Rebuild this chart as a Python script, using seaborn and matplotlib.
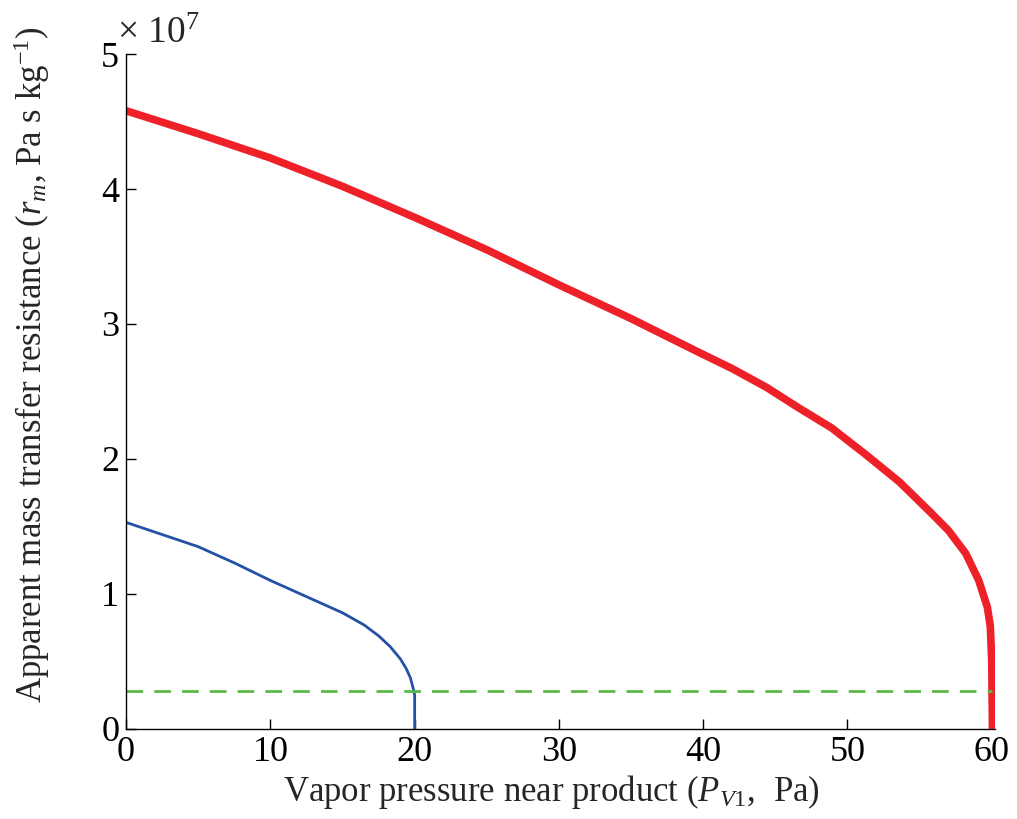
import numpy as np
import pandas as pd
from matplotlib import pyplot as plt
import seaborn as sns

# values, y in units of 1e7 Pa s/kg
red_x = [0, 5, 10, 15, 20, 25, 30, 35, 39.7, 42.0, 44.4, 46.6, 48.9, 51.3, 53.6, 55.8,
         57.0, 58.2, 59.1, 59.7, 59.9, 60.0, 60.05]
red_y = [4.58, 4.41, 4.23, 4.02, 3.79, 3.55, 3.29, 3.04, 2.79, 2.67, 2.53, 2.38, 2.23, 2.03, 1.83, 1.60,
         1.47, 1.30, 1.10, 0.90, 0.76, 0.51, 0.0]
blue_x = [0, 2.5, 5, 7.5, 10, 12.5, 15, 16.5, 17.5, 18.3, 19.0, 19.4, 19.7, 19.9, 20.0, 20.0]
blue_y = [1.53, 1.44, 1.35, 1.23, 1.10, 0.98, 0.86, 0.77, 0.69, 0.61, 0.52, 0.45, 0.38, 0.30, 0.25, 0.0]
green_x = [0, 60]
green_y = [0.28, 0.28]

sns.set_style('ticks')
plt.rcParams['font.family'] = ['Liberation Serif', 'DejaVu Serif']
plt.rcParams['mathtext.fontset'] = 'custom'
plt.rcParams['mathtext.rm'] = 'Liberation Serif'
plt.rcParams['mathtext.it'] = 'Liberation Serif:italic'

fig = plt.figure(figsize=(10.17, 8.19), dpi=100)
ax = fig.add_axes([0.124, 0.110, 0.854, 0.824])

sns.lineplot(x=red_x, y=red_y, ax=ax, color='#ED2127', lw=5.5, sort=False, estimator=None)
sns.lineplot(x=blue_x, y=blue_y, ax=ax, color='#2451A6', lw=2, sort=False, estimator=None)
sns.lineplot(x=green_x, y=green_y, ax=ax, color='#5CB948', lw=2, sort=False, estimator=None,
             dashes=False, linestyle=(0, (6, 4)))

ax.set_xlim(0, 60.2)
ax.set_ylim(0, 5)
ax.set_xticks([0, 10, 20, 30, 40, 50, 60])
ax.set_yticks([0, 1, 2, 3, 4, 5])
sns.despine(ax=ax)
for s in ['left', 'bottom']:
    ax.spines[s].set_linewidth(1.0)
    ax.spines[s].set_color('black')
ax.tick_params(direction='in', length=7, width=1, labelsize=26, colors='black', pad=5)
ax.set_xlabel('Vapor pressure near product ($P_{V\\mathrm{1}}$,  Pa)', fontsize=25)
ax.set_ylabel('Apparent mass transfer resistance ($r_m$, Pa s kg$^{\\mathrm{-1}}$)', fontsize=25)
ax.xaxis.set_label_coords(0.49, -0.065)
ax.yaxis.set_label_coords(-0.085, 0.54)
ax.text(-0.01, 1.005, '$\\times$ 10$^{7}$', transform=ax.transAxes, fontsize=27, va='bottom', ha='left')

plt.savefig('out.png', dpi=100)
plt.close()
